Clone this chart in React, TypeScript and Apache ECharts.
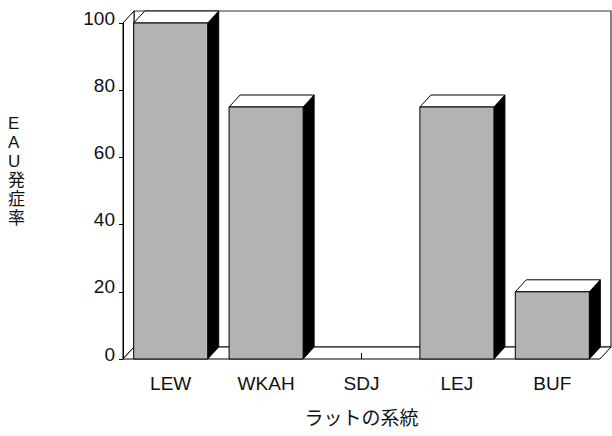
import React, { useEffect, useRef } from "react";
import * as echarts from "echarts";

// ラットの系統ごとの EAU 発症率 (%)
const strains = ["LEW", "WKAH", "SDJ", "LEJ", "BUF"];
const incidence = [100, 75, 0, 75, 20];
const yTicks = { min: 0, max: 100, interval: 20 };

const FONT = '"Liberation Sans", "Noto Sans CJK JP", sans-serif';
const JP_FONT = '"Noto Sans CJK JP", sans-serif';
// oblique depth of the 3-D box (px)
const DX = 11;
const DY = 12;
const BAR_RATIO = 0.776;
const FACE = "#b3b3b3";
const INK = "#111";

export default function App() {
  const ref = useRef<HTMLDivElement>(null);

  useEffect(() => {
    if (!ref.current) return;
    const chart = echarts.init(ref.current, undefined, { renderer: "svg" });

    // back wall, left wall and floor of the box
    const frameItem = (params: any) => {
      const cs = params.coordSys;
      const x0 = cs.x, y0 = cs.y, w = cs.width, h = cs.height;
      const line = { stroke: "#000", lineWidth: 1 };
      return {
        type: "group",
        children: [
          {
            type: "rect",
            shape: { x: x0 + DX, y: y0 - DY, width: w, height: h },
            style: { fill: "#fff", stroke: "#333", lineWidth: 1.2 },
          },
          {
            type: "polygon",
            shape: {
              points: [
                [x0, y0],
                [x0 + DX, y0 - DY],
                [x0 + DX, y0 + h - DY],
                [x0, y0 + h],
              ],
            },
            style: { fill: "#fff", ...line },
          },
          {
            type: "polygon",
            shape: {
              points: [
                [x0, y0 + h],
                [x0 + DX, y0 + h - DY],
                [x0 + w + DX, y0 + h - DY],
                [x0 + w, y0 + h],
              ],
            },
            style: { fill: "#fff", ...line },
          },
        ],
      };
    };

    // one 3-D bar: grey front, white top, black side
    const barItem = (params: any, api: any) => {
      const idx = api.value(0);
      const val = api.value(1);
      if (!val) return { type: "group", children: [] };
      const base = api.coord([idx, 0]);
      const top = api.coord([idx, val]);
      const bw = api.size([1, 0])[0] * BAR_RATIO;
      const xl = base[0] - bw / 2;
      const xr = base[0] + bw / 2;
      const yb = base[1];
      const yt = top[1];
      return {
        type: "group",
        children: [
          {
            type: "polygon",
            shape: {
              points: [
                [xr, yt],
                [xr + DX, yt - DY],
                [xr + DX, yb - DY],
                [xr, yb],
              ],
            },
            style: { fill: "#000", stroke: "#000", lineWidth: 1 },
          },
          {
            type: "polygon",
            shape: {
              points: [
                [xl, yt],
                [xl + DX, yt - DY],
                [xr + DX, yt - DY],
                [xr, yt],
              ],
            },
            style: { fill: "#fff", stroke: "#000", lineWidth: 1 },
          },
          {
            type: "rect",
            shape: { x: xl, y: yt, width: bw, height: yb - yt },
            style: { fill: FACE, stroke: "#000", lineWidth: 1 },
          },
        ],
      };
    };

    chart.setOption({
      animation: false,
      backgroundColor: "#fff",
      textStyle: { fontFamily: FONT },
      grid: { left: 123, right: 12, top: 23, bottom: 77, containLabel: false },
      xAxis: {
        type: "category",
        data: strains,
        z: 3,
        axisLine: { show: false },
        axisTick: {
          show: true,
          inside: true,
          alignWithLabel: true,
          length: 6,
          lineStyle: { color: "#000", width: 1 },
        },
        axisLabel: { fontSize: 19, color: INK, margin: 15, fontFamily: FONT },
        name: "ラットの系統",
        nameLocation: "middle",
        nameGap: 48,
        nameTextStyle: { fontSize: 19, color: INK, fontFamily: JP_FONT },
      },
      yAxis: {
        type: "value",
        min: yTicks.min,
        max: yTicks.max,
        interval: yTicks.interval,
        z: 3,
        axisLine: { show: true, lineStyle: { color: "#000", width: 1 } },
        axisTick: { show: true, length: 4, lineStyle: { color: "#000", width: 1 } },
        axisLabel: {
          fontSize: 19,
          color: INK,
          margin: 8,
          fontFamily: FONT,
          verticalAlign: "bottom",
          lineHeight: 10,
        },
        splitLine: { show: false },
      },
      graphic: [
        {
          type: "text",
          left: 8,
          top: 114,
          style: {
            text: "E\nA\nU\n発\n症\n率",
            font: `17px ${FONT}`,
            lineHeight: 19,
            align: "center",
            fill: INK,
          },
        },
      ],
      series: [
        {
          type: "custom",
          z: 1,
          renderItem: frameItem,
          data: [[0, 0]],
          silent: true,
        },
        {
          type: "custom",
          z: 4,
          renderItem: barItem,
          encode: { x: 0, y: 1 },
          data: strains.map((_, i) => [i, incidence[i]]),
        },
      ],
    });

    return () => chart.dispose();
  }, []);

  return (
    <div
      ref={ref}
      style={{ position: "absolute", left: 0, top: 0, width: 612, height: 436 }}
    />
  );
}
